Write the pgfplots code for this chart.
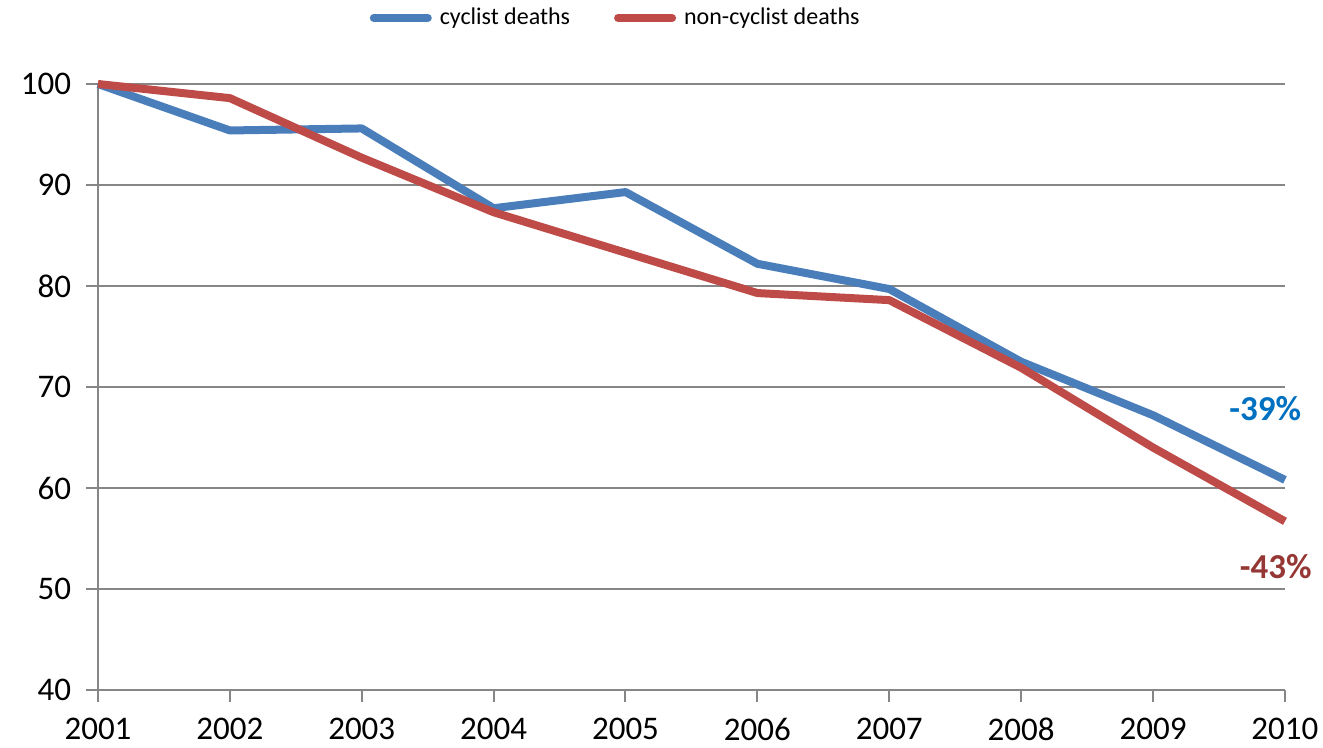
\documentclass[border=0pt]{standalone}
\usepackage{fontspec}
\setmainfont{Carlito}
\usepackage{pgfplots}
\pgfplotsset{compat=1.18}
\definecolor{cblue}{HTML}{4A7EBB}
\definecolor{cred}{HTML}{BE4B48}
\definecolor{gridgray}{HTML}{868686}
\definecolor{annblue}{HTML}{0070C0}
\definecolor{annred}{HTML}{953735}
\begin{document}
\begin{tikzpicture}
\path[use as bounding box] (-49pt,-29pt) rectangle (612.5pt,345pt);
\begin{axis}[
  scale only axis, width=593.5pt, height=303pt,
  xmin=2001, xmax=2010, ymin=40, ymax=100,
  xtick={2001,...,2010}, ytick={40,50,...,100},
  axis lines*=left,
  axis line style={gridgray, line width=1pt},
  tick style={gridgray, line width=1pt},
  tick align=outside, major tick length=6pt,
  ymajorgrids, grid style={gridgray, line width=1pt},
  /pgf/number format/assume math mode=true,
  xticklabel style={/pgf/number format/1000 sep={}, font=\fontsize{16.5}{19}\selectfont, yshift=-4.5pt},
  yticklabel style={font=\fontsize{16.5}{19}\selectfont, xshift=-4pt},
  clip=false,
  legend style={at={(0.437,1.109)}, anchor=center, legend columns=2, draw=none,
    font=\fontsize{12}{14}\selectfont, inner sep=0pt,
    /tikz/every odd column/.append style={column sep=2pt},
    /tikz/every even column/.append style={column sep=20pt}},
  legend cell align=left,
  legend image code/.code={\draw[line width=4pt, line cap=round] (0,0) -- (27pt,0);},
]
\addplot[cblue, line width=4pt, line join=round] coordinates {
(2001,100) (2002,95.4) (2003,95.6) (2004,87.7) (2005,89.3) (2006,82.2) (2007,79.7) (2008,72.5) (2009,67.2) (2010,60.8)};
\addlegendentry{cyclist deaths}
\addplot[cred, line width=4pt, line join=round] coordinates {
(2001,100) (2002,98.6) (2003,92.7) (2004,87.3) (2005,83.3) (2006,79.3) (2007,78.6) (2008,71.9) (2009,64.0) (2010,56.7)};
\addlegendentry{non-cyclist deaths}
\node[annblue, font=\fontsize{17.5}{20}\selectfont\bfseries] at (axis cs:2009.85,67.9) {-39\%};
\node[annred, font=\fontsize{17.5}{20}\selectfont\bfseries] at (axis cs:2009.93,52.2) {-43\%};
\end{axis}
\end{tikzpicture}
\end{document}
